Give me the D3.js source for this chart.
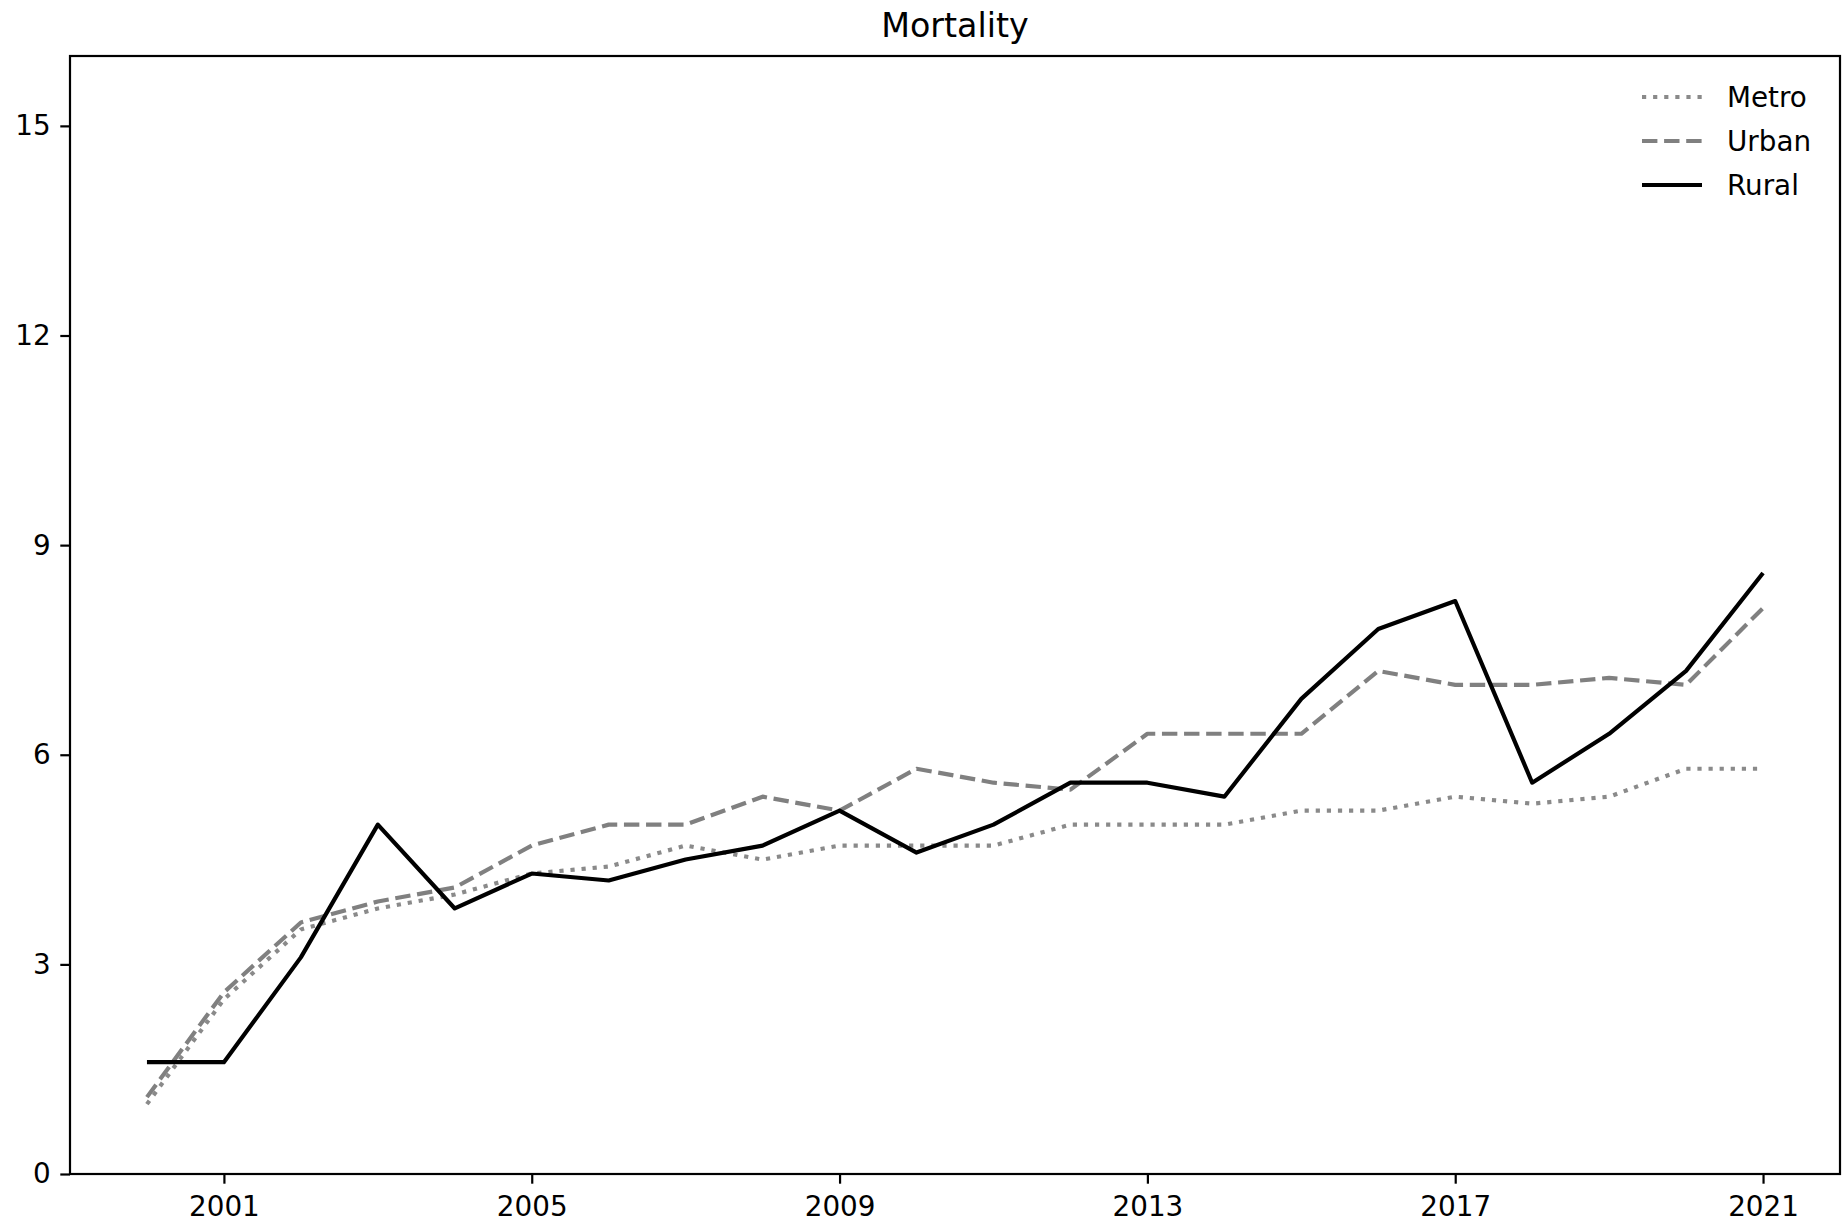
<!DOCTYPE html>
<html>
<head>
<meta charset="utf-8">
<script src="https://cdn.jsdelivr.net/npm/d3@7"></script>
<style>
  html, body { margin: 0; padding: 0; background: #fff; }
  svg { display: block; font-family: "DejaVu Sans", sans-serif; }
</style>
</head>
<body>
<svg id="chart" width="1844" height="1225"></svg>
<script>
const years = [2000, 2001, 2002, 2003, 2004, 2005, 2006, 2007, 2008, 2009, 2010,
               2011, 2012, 2013, 2014, 2015, 2016, 2017, 2018, 2019, 2020, 2021];
const metro = [1.0, 2.5, 3.5, 3.8, 4.0, 4.3, 4.4, 4.7, 4.5, 4.7, 4.7,
               4.7, 5.0, 5.0, 5.0, 5.2, 5.2, 5.4, 5.3, 5.4, 5.8, 5.8];
const urban = [1.1, 2.6, 3.6, 3.9, 4.1, 4.7, 5.0, 5.0, 5.4, 5.2, 5.8,
               5.6, 5.5, 6.3, 6.3, 6.3, 7.2, 7.0, 7.0, 7.1, 7.0, 8.1];
const rural = [1.6, 1.6, 3.1, 5.0, 3.8, 4.3, 4.2, 4.5, 4.7, 5.2, 4.6,
               5.0, 5.6, 5.6, 5.4, 6.8, 7.8, 8.2, 5.6, 6.3, 7.2, 8.6];
const seriesNames = ["Metro", "Urban", "Rural"];
const xTicks = [2001, 2005, 2009, 2013, 2017, 2021];
const yTicks = [0, 3, 6, 9, 12, 15];
const title = "Mortality";

const styles = {
  Metro: { color: "#8a8a8a", dash: "4.2,6.9", width: 4.17, cap: "butt" },
  Urban: { color: "#808080", dash: "15.4,6.7", width: 4.17, cap: "butt" },
  Rural: { color: "#000000", dash: null, width: 4.17, cap: "butt" }
};

const svg = d3.select("#chart");
const L = 70, T = 56, R = 1840, B = 1174;

const x = d3.scaleLinear().domain([1999.0, 2022.0]).range([L, R]);
const y = d3.scaleLinear().domain([0, 16]).range([B, T]);

const tickLen = 9.7, fs = 27.8;

// Axes
const xAxis = d3.axisBottom(x).tickValues(xTicks).tickFormat(d3.format("d"))
  .tickSize(tickLen).tickPadding(13);
const yAxis = d3.axisLeft(y).tickValues(yTicks).tickFormat(d3.format("d"))
  .tickSize(tickLen).tickPadding(9.7);

const gx = svg.append("g").attr("transform", `translate(0,${B})`).call(xAxis);
const gy = svg.append("g").attr("transform", `translate(${L},0)`).call(yAxis);
[gx, gy].forEach(g => {
  g.select(".domain").remove();
  g.selectAll(".tick line").attr("stroke", "#000").attr("stroke-width", 2.2);
  g.selectAll(".tick text").attr("fill", "#000").style("font-size", fs + "px")
    .style("font-family", "'DejaVu Sans', sans-serif");
});

// Lines
const data = { Metro: metro, Urban: urban, Rural: rural };
const line = d3.line().x(d => x(d[0])).y(d => y(d[1]));
seriesNames.forEach(name => {
  const st = styles[name];
  const pts = years.map((yr, i) => [yr, data[name][i]]);
  const p = svg.append("path")
    .datum(pts)
    .attr("d", line)
    .attr("fill", "none")
    .attr("stroke", st.color)
    .attr("stroke-width", st.width)
    .attr("stroke-linejoin", "round")
    .attr("stroke-linecap", st.cap);
  if (st.dash) p.attr("stroke-dasharray", st.dash);
});

// Frame
svg.append("rect")
  .attr("x", L).attr("y", T).attr("width", R - L).attr("height", B - T)
  .attr("fill", "none").attr("stroke", "#000").attr("stroke-width", 2.2);

// Title
svg.append("text")
  .attr("x", (L + R) / 2).attr("y", T - 19)
  .attr("text-anchor", "middle")
  .style("font-size", "33.3px")
  .attr("fill", "#000")
  .text(title);

// Legend
const legendRows = [97, 141, 185];
seriesNames.forEach((name, i) => {
  const st = styles[name];
  const ly = legendRows[i];
  const l = svg.append("line")
    .attr("x1", 1642).attr("x2", 1702)
    .attr("y1", ly).attr("y2", ly)
    .attr("stroke", st.color).attr("stroke-width", st.width)
    .attr("stroke-linecap", st.cap);
  if (st.dash) l.attr("stroke-dasharray", st.dash);
  svg.append("text")
    .attr("x", 1727).attr("y", ly)
    .attr("dy", "0.36em")
    .style("font-size", fs + "px")
    .attr("fill", "#000")
    .text(name);
});
</script>
</body>
</html>
